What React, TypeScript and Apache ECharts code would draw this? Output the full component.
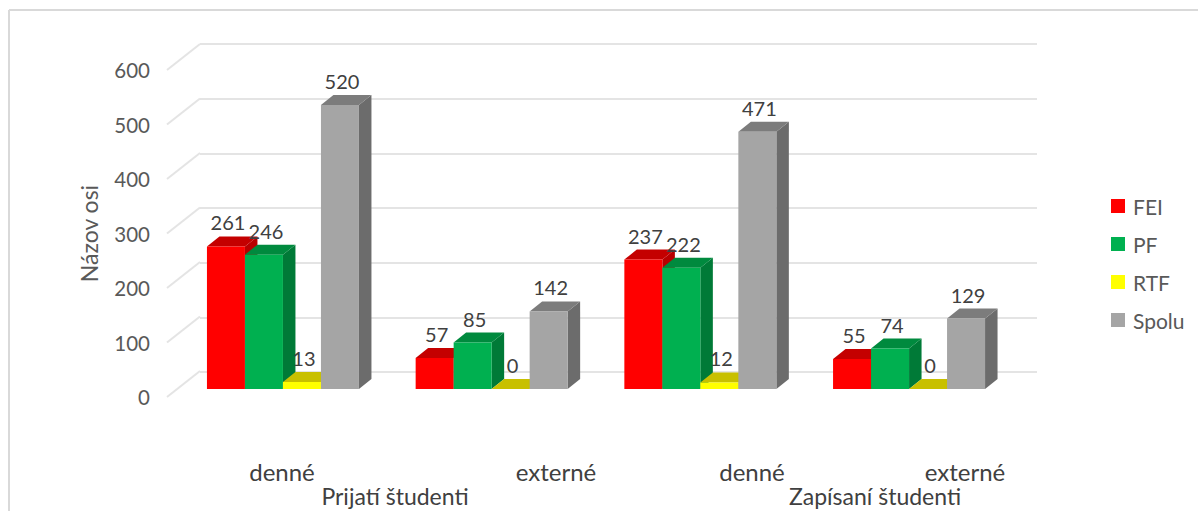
import React, { useEffect, useRef } from "react";
import * as echarts from "echarts";

const categories = ["Prijatí denné", "Prijatí externé", "Zapísaní denné", "Zapísaní externé"];
const seriesNames = ["FEI", "PF", "RTF", "Spolu"];
const fei = [261, 57, 237, 55];
const pf = [246, 85, 222, 74];
const rtf = [13, 0, 12, 0];
const spolu = [520, 142, 471, 129];
const ticks = [0, 100, 200, 300, 400, 500, 600];
const subLabels = ["denné", "externé", "denné", "externé"];
const groupLabels = ["Prijatí študenti", "Zapísaní študenti"];
const axisTitle = "Názov osi";

const FONT = "Lato, 'Open Sans', sans-serif";
const BAR_W = 38;
const DX = 12.5;
const DY = 10;
const subX = [282, 556, 752, 965];
const groupX = [395, 875];

const palette = [
  { front: "#ff0000", top: "#c40000", side: "#b80000" },
  { front: "#00b050", top: "#008a3e", side: "#007a37" },
  { front: "#ffff00", top: "#c8c000", side: "#bdb500" },
  { front: "#a5a5a5", top: "#7c7c7c", side: "#6c6c6c" },
];

function barSeries(name: string, values: number[], idx: number) {
  const c = palette[idx];
  return {
    type: "custom",
    name,
    xAxisIndex: 0,
    yAxisIndex: 0,
    clip: false,
    itemStyle: { color: c.front },
    encode: { x: 0, y: 1 },
    data: values.map((v, i) => [i, v]),
    z: 5 + idx,
    renderItem: (_p: any, api: any) => {
      const v = api.value(1);
      const base = api.coord([api.value(0), 0]);
      const topPt = api.coord([api.value(0), v]);
      const x = base[0] - 2 * BAR_W + idx * BAR_W;
      const y0 = base[1];
      const y1 = topPt[1];
      return {
        type: "group",
        children: [
          {
            type: "polygon",
            shape: { points: [[x + BAR_W, y0], [x + BAR_W + DX, y0 - DY], [x + BAR_W + DX, y1 - DY], [x + BAR_W, y1]] },
            style: { fill: c.side },
          },
          {
            type: "polygon",
            shape: { points: [[x, y1], [x + DX, y1 - DY], [x + BAR_W + DX, y1 - DY], [x + BAR_W, y1]] },
            style: { fill: c.top },
          },
          { type: "rect", shape: { x, y: y1, width: BAR_W, height: y0 - y1 }, style: { fill: c.front } },
          {
            type: "text",
            x: x + BAR_W / 2 + 2,
            y: y1 - DY - 14,
            style: { text: String(v), fill: "#404040", font: `20px ${FONT}`, align: "center", verticalAlign: "middle" },
          },
        ],
      };
    },
  };
}

export default function App() {
  const ref = useRef<HTMLDivElement>(null);
  useEffect(() => {
    const chart = echarts.init(ref.current!, undefined, { renderer: "svg" });
    const hiddenAxis = { show: false };
    chart.setOption({
      animation: false,
      backgroundColor: "#ffffff",
      textStyle: { fontFamily: FONT },
      grid: [
        { left: 178.6, top: 61.4, width: 834.8, height: 327.6 },
        { left: 200, top: 44, width: 837, height: 328 },
        { left: 167, top: 70, width: 33, height: 327 },
      ],
      xAxis: [
        { type: "category", gridIndex: 0, data: categories, ...hiddenAxis },
        { type: "value", gridIndex: 1, min: 0, max: 1, ...hiddenAxis },
        { type: "value", gridIndex: 2, min: 0, max: 1, ...hiddenAxis },
      ],
      yAxis: [
        { type: "value", gridIndex: 0, min: 0, max: 600, interval: 100, ...hiddenAxis },
        {
          type: "value",
          gridIndex: 1,
          min: 0,
          max: 600,
          interval: 100,
          axisLine: { show: false },
          axisTick: { show: false },
          axisLabel: { show: false },
          splitLine: { show: true, lineStyle: { color: "#e4e4e4", width: 2 } },
        },
        {
          type: "value",
          gridIndex: 2,
          min: 0,
          max: 600,
          interval: 100,
          name: axisTitle,
          nameLocation: "middle",
          nameGap: 67,
          nameTextStyle: { color: "#595959", fontSize: 23, fontFamily: FONT },
          axisLine: { show: false },
          axisTick: { show: false },
          splitLine: { show: false },
          axisLabel: { color: "#595959", fontSize: 20.5, margin: 17, fontFamily: FONT },
        },
      ],
      legend: {
        orient: "vertical",
        left: 1111,
        top: 195.5,
        padding: 0,
        data: seriesNames,
        icon: "rect",
        itemWidth: 14,
        itemHeight: 14,
        itemGap: 17,
        textStyle: { color: "#595959", fontSize: 21, lineHeight: 21, padding: [0, 0, 0, 3], fontFamily: FONT },
        selectedMode: false,
      },
      series: [
        {
          type: "custom",
          xAxisIndex: 2,
          yAxisIndex: 2,
          clip: false,
          silent: true,
          z: 1,
          encode: { y: 0 },
          data: ticks.map((t) => [t]),
          renderItem: (_p: any, api: any) => {
            const start = api.coord([0, api.value(0)]);
            return {
              type: "line",
              shape: { x1: start[0], y1: start[1], x2: start[0] + 33, y2: start[1] - 26 },
              style: { stroke: "#e4e4e4", lineWidth: 2 },
            };
          },
        },
        barSeries(seriesNames[0], fei, 0),
        barSeries(seriesNames[1], pf, 1),
        barSeries(seriesNames[2], rtf, 2),
        barSeries(seriesNames[3], spolu, 3),
      ],
      graphic: [
        { type: "line", silent: true, shape: { x1: 9, y1: 10, x2: 1198, y2: 10 }, style: { stroke: "#d9d9d9", lineWidth: 2 } },
        { type: "line", silent: true, shape: { x1: 9, y1: 10, x2: 9, y2: 511 }, style: { stroke: "#d9d9d9", lineWidth: 2 } },
        ...subLabels.map((t, i) => ({
          type: "text",
          x: subX[i],
          y: 471,
          style: { text: t, fill: "#404040", font: `24px ${FONT}`, align: "center", verticalAlign: "middle" },
        })),
        ...groupLabels.map((t, i) => ({
          type: "text",
          x: groupX[i],
          y: 496,
          style: { text: t, fill: "#404040", font: `23px ${FONT}`, align: "center", verticalAlign: "middle" },
        })),
      ],
    });
    return () => chart.dispose();
  }, []);
  return <div ref={ref} style={{ position: "fixed", left: 0, top: 0, width: 1198, height: 511 }} />;
}
